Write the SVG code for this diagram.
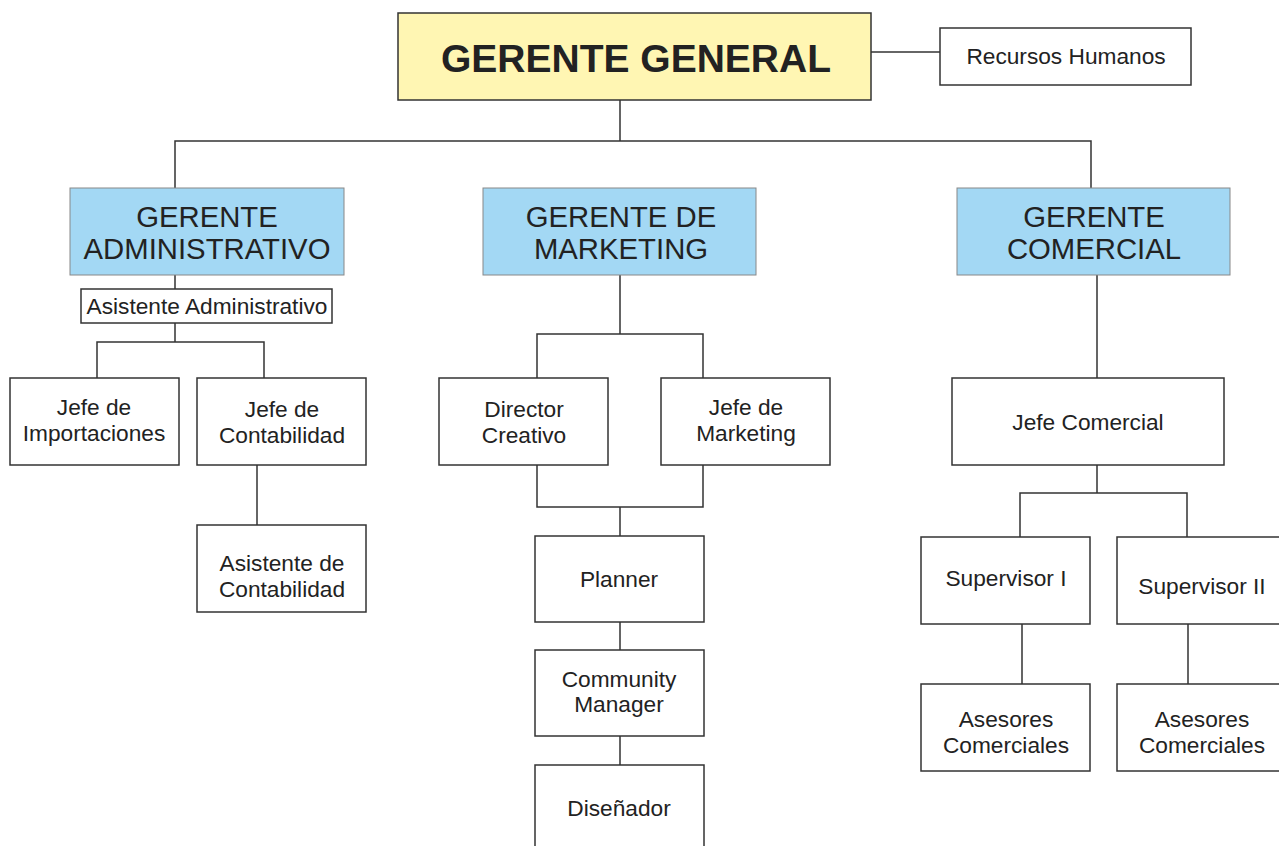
<svg xmlns="http://www.w3.org/2000/svg" width="1279" height="846" viewBox="0 0 1279 846">
<style>
.b{fill:#fff;stroke:#333;stroke-width:1.5}
.y{fill:#fff6b3;stroke:#333;stroke-width:1.5}
.c{fill:#a3d8f4;stroke:#888;stroke-width:1}
text{font-family:"Liberation Sans",Arial,sans-serif;fill:#222;text-anchor:middle}
.t{font-size:22.7px}
.h{font-size:29.3px}
.g{font-size:39px;font-weight:bold}
#conn path{fill:none;stroke:#333;stroke-width:1.5}
</style>
<rect width="1279" height="846" fill="#fff"/>
<g id="conn">
<path d="M871 52H940"/>
<path d="M620 100V141M175 188V141H1091V188"/>
<path d="M175 275V289M175 323V342M97 378V342H264V378"/>
<path d="M257 465V525"/>
<path d="M620 275V334M537 378V334H703V378"/>
<path d="M537 465V507H703V465M620 507V536"/>
<path d="M620 622V650M620 736V765"/>
<path d="M1097 275V378M1097 465V493M1020 537V493H1187V537"/>
<path d="M1022 624V684M1188 624V684"/>
</g>
<g id="gg"><rect class="y" x="398" y="13" width="473" height="87"/><text class="g" x="636" y="72">GERENTE GENERAL</text></g>
<g id="rh"><rect class="b" x="940" y="28" width="251" height="57"/><text class="t" x="1066" y="64">Recursos Humanos</text></g>
<g id="gadm"><rect class="c" x="70" y="188" width="274" height="87"/><text class="h" x="207" y="227">GERENTE</text><text class="h" x="207" y="259">ADMINISTRATIVO</text></g>
<g id="gmkt"><rect class="c" x="483" y="188" width="273" height="87"/><text class="h" x="621" y="227">GERENTE DE</text><text class="h" x="621" y="259">MARKETING</text></g>
<g id="gcom"><rect class="c" x="957" y="188" width="273" height="87"/><text class="h" x="1094" y="227">GERENTE</text><text class="h" x="1094" y="259">COMERCIAL</text></g>
<g id="asadm"><rect class="b" x="81" y="289" width="251" height="34"/><text class="t" x="207" y="314">Asistente Administrativo</text></g>
<g id="jimp"><rect class="b" x="10" y="378" width="169" height="87"/><text class="t" x="94" y="415">Jefe de</text><text class="t" x="94" y="441">Importaciones</text></g>
<g id="jcont"><rect class="b" x="197" y="378" width="169" height="87"/><text class="t" x="282" y="417">Jefe de</text><text class="t" x="282" y="443">Contabilidad</text></g>
<g id="ascont"><rect class="b" x="197" y="525" width="169" height="87"/><text class="t" x="282" y="571">Asistente de</text><text class="t" x="282" y="597">Contabilidad</text></g>
<g id="dcre"><rect class="b" x="439" y="378" width="169" height="87"/><text class="t" x="524" y="417">Director</text><text class="t" x="524" y="443">Creativo</text></g>
<g id="jmkt"><rect class="b" x="661" y="378" width="169" height="87"/><text class="t" x="746" y="415">Jefe de</text><text class="t" x="746" y="441">Marketing</text></g>
<g id="plan"><rect class="b" x="535" y="536" width="169" height="86"/><text class="t" x="619" y="587">Planner</text></g>
<g id="cm"><rect class="b" x="535" y="650" width="169" height="86"/><text class="t" x="619" y="687">Community</text><text class="t" x="619" y="712">Manager</text></g>
<g id="dis"><rect class="b" x="535" y="765" width="169" height="90"/><text class="t" x="619" y="816">Diseñador</text></g>
<g id="jcom"><rect class="b" x="952" y="378" width="272" height="87"/><text class="t" x="1088" y="430">Jefe Comercial</text></g>
<g id="sup1"><rect class="b" x="921" y="537" width="169" height="87"/><text class="t" x="1006" y="586">Supervisor I</text></g>
<g id="sup2"><rect class="b" x="1117" y="537" width="169" height="87"/><text class="t" x="1202" y="594">Supervisor II</text></g>
<g id="ase1"><rect class="b" x="921" y="684" width="169" height="87"/><text class="t" x="1006" y="727">Asesores</text><text class="t" x="1006" y="753">Comerciales</text></g>
<g id="ase2"><rect class="b" x="1117" y="684" width="169" height="87"/><text class="t" x="1202" y="727">Asesores</text><text class="t" x="1202" y="753">Comerciales</text></g>
</svg>
